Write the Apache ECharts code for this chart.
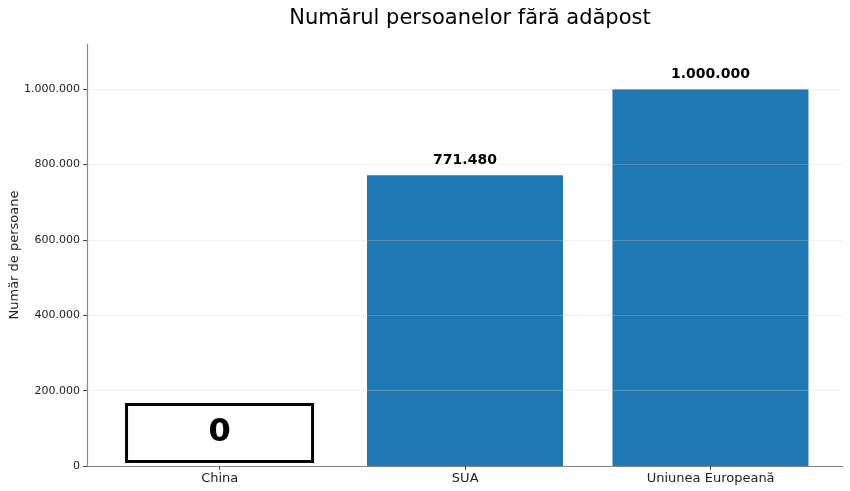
<!DOCTYPE html>
<html>
<head>
<meta charset="utf-8">
<script src="https://cdn.jsdelivr.net/npm/echarts@6/dist/echarts.min.js"></script>
<style>
html,body{margin:0;padding:0;background:#fff;}
#c{width:850px;height:491px;}
</style>
</head>
<body>
<div id="c"></div>
<script>
const categories = ['China', 'SUA', 'Uniunea Europeană'];
const values = [0, 771480, 1000000];
const yTicks = [0, 200000, 400000, 600000, 800000, 1000000];
const gridValues = [200000, 400000, 600000, 800000, 1000000];

function fmt(n) {
  return String(Math.round(n)).replace(/\B(?=(\d{3})+(?!\d))/g, '.');
}

const FONT = 'DejaVu Sans';
const chart = echarts.init(document.getElementById('c'), null, {renderer: 'canvas'});

const barData = values.map((v, i) => {
  const item = {value: [i, v]};
  if (v === 0) {
    item.label = {
      show: true,
      position: 'top',
      distance: 6,
      formatter: () => fmt(v),
      fontFamily: FONT,
      fontSize: 32,
      fontWeight: 'bold',
      color: '#000',
      backgroundColor: '#fff',
      borderColor: '#000',
      borderWidth: 3,
      width: 183,
      height: 54,
      lineHeight: 54,
      align: 'center',
      padding: 0
    };
  }
  return item;
});

chart.setOption({
  animation: false,
  title: {
    text: 'Numărul persoanelor fără adăpost',
    left: 465,
    textAlign: 'center',
    top: 3,
    textStyle: {fontFamily: FONT, fontSize: 21, fontWeight: 'normal', color: '#000'}
  },
  grid: [
    {left: 87, right: 7, top: 44, bottom: 25, outerBoundsMode: 'none', containLabel: false},
    {left: 97, right: 16.6, top: 44, bottom: 25, outerBoundsMode: 'none', containLabel: false}
  ],
  xAxis: [
    {
      type: 'value', gridIndex: 0, min: -0.54, max: 2.54,
      axisLine: {show: true, onZero: false, lineStyle: {color: '#888', width: 1.2}},
      axisTick: {show: false}, axisLabel: {show: false}, splitLine: {show: false}
    },
    {
      type: 'category', gridIndex: 1, data: categories,
      axisLine: {show: false},
      axisTick: {show: true, alignWithLabel: true, length: 4, lineStyle: {color: '#444'}},
      axisLabel: {fontFamily: FONT, fontSize: 13, color: '#222', margin: 6},
      splitLine: {show: false}
    }
  ],
  yAxis: [
    {
      type: 'value', gridIndex: 0, min: 0, max: 1120000, interval: 200000,
      name: 'Număr de persoane', nameLocation: 'middle', nameGap: 66,
      nameMoveOverlap: false,
      nameTextStyle: {fontFamily: FONT, fontSize: 13, color: '#222'},
      axisLine: {show: true, onZero: false, lineStyle: {color: '#888', width: 1.2}},
      axisTick: {show: true, length: 4, lineStyle: {color: '#444'}, customValues: yTicks},
      axisLabel: {fontFamily: FONT, fontSize: 11, color: '#222', margin: 7,
        customValues: yTicks, formatter: v => fmt(v)},
      splitLine: {show: false}
    },
    {type: 'value', gridIndex: 1, show: false, min: 0, max: 1120000}
  ],
  series: [
    {
      type: 'bar', xAxisIndex: 0, yAxisIndex: 0,
      barWidth: 196,
      data: barData,
      itemStyle: {color: '#1f77b4'},
      label: {
        show: true, position: 'top', distance: 8,
        formatter: p => fmt(p.value[1]),
        fontFamily: FONT, fontSize: 14, fontWeight: 'bold', color: '#000'
      },
      markLine: {
        silent: true, symbol: 'none', animation: false,
        label: {show: false},
        lineStyle: {color: 'rgba(210,210,210,0.3)', type: 'solid', width: 1},
        data: gridValues.map(v => ({yAxis: v}))
      },
      z: 2
    }
  ]
});
</script>
</body>
</html>
